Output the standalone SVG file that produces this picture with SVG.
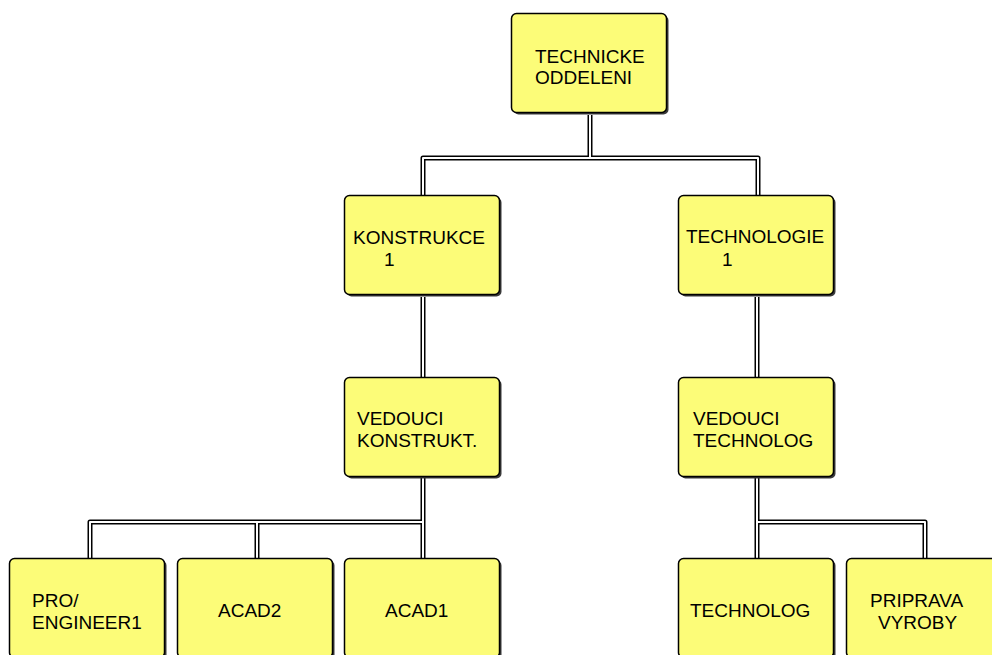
<svg xmlns="http://www.w3.org/2000/svg" width="992" height="655" viewBox="0 0 992 655">
<style>
.bg{fill:#ffffff}
.outer{fill:none;stroke:#000;stroke-width:5;stroke-linejoin:round}
.inner{fill:none;stroke:#fff;stroke-width:2;stroke-linejoin:round}
.shadow{fill:#3a3a3a}
.box{fill:#fcfc78;stroke:#000;stroke-width:1.5}
text{font-family:"Liberation Sans",Arial,sans-serif;font-size:19px;fill:#000}
</style>
<defs>
<g id="nodeshape">
<rect class="shadow" x="2" y="2" width="155" height="99" rx="5"/>
<rect class="box" x="0" y="0" width="155" height="99" rx="5"/>
</g>
</defs>
<rect class="bg" x="0" y="0" width="992" height="655"/>
<g id="connectors">
<path class="outer" d="M590 115 V158 M423 195 V158 H758 V195 M423 297 V377 M423 478 V522 M90 558 V522 H423 V558 M257 522 V558 M757 297 V377 M757 477 V558 M757 522 H925 V558"/>
<path class="inner" d="M590 115 V158 M423 195 V158 H758 V195 M423 297 V377 M423 478 V522 M90 558 V522 H423 V558 M257 522 V558 M757 297 V377 M757 477 V558 M757 522 H925 V558"/>
</g>
<g id="technicke-oddeleni">
<use href="#nodeshape" x="511.5" y="13.5"/>
<text x="535" y="63">TECHNICKE</text>
<text x="535" y="84">ODDELENI</text>
</g>
<g id="konstrukce">
<use href="#nodeshape" x="344.5" y="195.5"/>
<text x="353" y="244">KONSTRUKCE</text>
<text x="384" y="266">1</text>
</g>
<g id="technologie">
<use href="#nodeshape" x="678.5" y="195.5"/>
<text x="686" y="243">TECHNOLOGIE</text>
<text x="722" y="266">1</text>
</g>
<g id="vedouci-konstrukt">
<use href="#nodeshape" x="344.5" y="377.5"/>
<text x="357" y="425">VEDOUCI</text>
<text x="357" y="447">KONSTRUKT.</text>
</g>
<g id="vedouci-technolog">
<use href="#nodeshape" x="678.5" y="377.5"/>
<text x="693" y="425">VEDOUCI</text>
<text x="693" y="447">TECHNOLOG</text>
</g>
<g id="pro-engineer1">
<use href="#nodeshape" x="9.5" y="558.5"/>
<text x="32" y="607">PRO/</text>
<text x="32" y="629">ENGINEER1</text>
</g>
<g id="acad2">
<use href="#nodeshape" x="177.5" y="558.5"/>
<text x="218" y="617">ACAD2</text>
</g>
<g id="acad1">
<use href="#nodeshape" x="344.5" y="558.5"/>
<text x="385" y="617">ACAD1</text>
</g>
<g id="technolog">
<use href="#nodeshape" x="678.5" y="558.5"/>
<text x="690" y="617">TECHNOLOG</text>
</g>
<g id="priprava-vyroby">
<use href="#nodeshape" x="846.5" y="558.5"/>
<text x="870" y="607">PRIPRAVA</text>
<text x="878" y="629">VYROBY</text>
</g>
</svg>
